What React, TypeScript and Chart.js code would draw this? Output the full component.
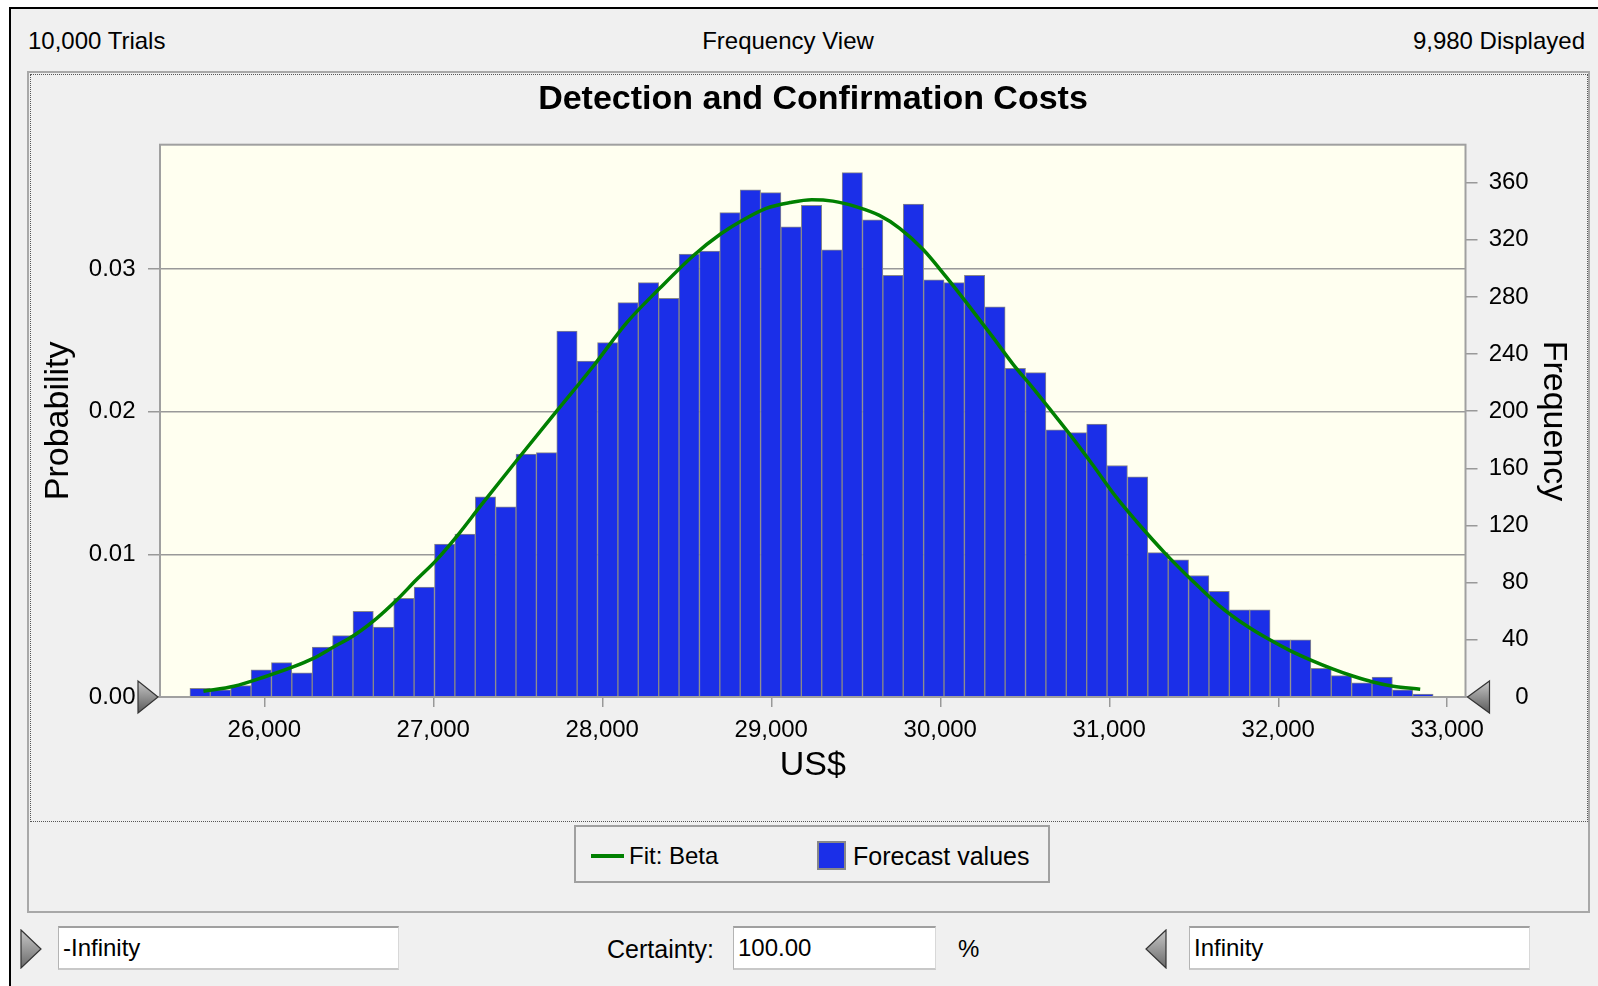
import React, { useEffect, useRef } from "react";
import { Chart, registerables } from "chart.js";

Chart.register(...registerables);

// ---- data ----
const binCenters = [
  25620.3, 25740.9, 25861.5, 25982.1, 26102.7, 26223.3, 26343.9, 26464.5, 26585.1, 26705.7,
  26826.3, 26946.9, 27067.5, 27188.1, 27308.7, 27429.3, 27549.9, 27670.5, 27791.1, 27911.7,
  28032.3, 28152.9, 28273.5, 28394.1, 28514.7, 28635.3, 28755.9, 28876.5, 28997.1, 29117.7,
  29238.3, 29358.9, 29479.5, 29600.1, 29720.7, 29841.3, 29961.9, 30082.5, 30203.1, 30323.7,
  30444.3, 30564.9, 30685.5, 30806.1, 30926.7, 31047.3, 31167.9, 31288.5, 31409.1, 31529.7,
  31650.3, 31770.9, 31891.5, 32012.1, 32132.7, 32253.3, 32373.9, 32494.5, 32615.1, 32735.7,
  32856.3,
];
const frequencies = [
  6, 5, 8, 19, 24, 17, 35, 43, 60, 49,
  69, 77, 107, 114, 140, 133, 170, 171, 256, 235,
  248, 276, 290, 279, 310, 312, 339, 355, 353, 329,
  344, 313, 367, 334, 295, 345, 292, 290, 295, 273,
  230, 227, 187, 185, 191, 162, 154, 101, 96, 85,
  74, 61, 61, 40, 40, 20, 15, 10, 14, 5,
  2,
];
const fitX = [
  25640, 25820, 26000, 26170, 26290, 26410, 26530, 26665, 26785, 26900,
  27020, 27150, 27275, 27490, 27730, 27950, 28145, 28340, 28540, 28700,
  28835, 28970, 29110, 29240, 29365, 29505, 29640, 29760, 29900, 30035,
  30155, 30310, 30430, 30550, 30665, 30785, 30905, 31040, 31160, 31335,
  31495, 31650, 31810, 31950, 32070, 32200, 32325, 32445, 32560, 32680,
  32840,
];
const fitY = [
  4, 7.5, 14, 21, 27, 35, 43, 55, 68, 82,
  96, 114, 133, 165, 200, 232, 262, 286, 309, 324,
  334, 342, 346, 348, 347, 343, 337, 328, 313, 294,
  276, 252, 233, 216, 199, 181, 162, 140, 123, 100,
  81, 64, 50, 40, 32.5, 25.5, 19.5, 14.5, 10.5, 7.5,
  5.5,
];
const xTickValues = [26000, 27000, 28000, 29000, 30000, 31000, 32000, 33000];
const displayedTrials = 9980;
const xMin = 25383;
const xMax = 33108;
const freqMax = 386.5;

const FONT = "'Liberation Sans', Arial, Helvetica, sans-serif";

type TxtProps = { x: number; y: number; align?: "left" | "center" | "right"; size?: number; bold?: boolean; children: React.ReactNode };
function Txt({ x, y, align = "left", size = 24, bold = false, children }: TxtProps) {
  const w = 1000;
  let left = x;
  if (align === "center") left = x - w / 2;
  if (align === "right") left = x - w;
  return (
    <div
      style={{
        position: "absolute",
        left,
        top: y - size,
        width: w,
        height: size * 2,
        lineHeight: `${size * 2}px`,
        fontSize: size,
        fontWeight: bold ? "bold" : "normal",
        textAlign: align,
        color: "#000",
        whiteSpace: "nowrap",
      }}
    >
      {children}
    </div>
  );
}

function Tri({ x, y, w, h, dir }: { x: number; y: number; w: number; h: number; dir: "right" | "left" }) {
  const pts = dir === "right" ? `1,1 ${w - 1},${h / 2} 1,${h - 1}` : `${w - 1},1 1,${h / 2} ${w - 1},${h - 1}`;
  return (
    <svg style={{ position: "absolute", left: x, top: y }} width={w} height={h}>
      <defs>
        <linearGradient id={`g${dir}${x}`} x1="0" y1="0" x2="0" y2="1">
          <stop offset="0" stopColor="#c8c8c8" />
          <stop offset="1" stopColor="#6a6a6a" />
        </linearGradient>
      </defs>
      <polygon points={pts} fill={`url(#g${dir}${x})`} stroke="#333" strokeWidth="1.2" />
    </svg>
  );
}

function Box({ x, y, w, h, text }: { x: number; y: number; w: number; h: number; text: string }) {
  return (
    <div
      style={{
        position: "absolute",
        left: x,
        top: y,
        width: w,
        height: h,
        boxSizing: "border-box",
        background: "#fff",
        borderTop: "2px solid #a0a0a0",
        borderLeft: "1px solid #b4b4b4",
        borderRight: "1px solid #d8d8d8",
        borderBottom: "2px solid #c8c8c8",
        fontSize: 24,
        lineHeight: `${h - 4}px`,
        paddingLeft: 4,
        color: "#000",
        whiteSpace: "nowrap",
      }}
    >
      {text}
    </div>
  );
}

export default function App() {
  const ref = useRef<HTMLCanvasElement>(null);

  useEffect(() => {
    const canvas = ref.current!;
    const plotDecor = {
      id: "plotDecor",
      beforeDraw(chart: any) {
        const { ctx, chartArea: a } = chart;
        ctx.save();
        ctx.fillStyle = "#fffff0";
        ctx.fillRect(a.left, a.top, a.right - a.left, a.bottom - a.top);
        ctx.restore();
      },
      afterDraw(chart: any) {
        const { ctx, chartArea: a } = chart;
        ctx.save();
        ctx.strokeStyle = "#a0a0a0";
        ctx.lineWidth = 2;
        ctx.strokeRect(a.left, a.top, a.right - a.left, a.bottom - a.top);
        const tri = (tipX: number, tipY: number, dx: number) => {
          const g = ctx.createLinearGradient(0, tipY - 16, 0, tipY + 16);
          g.addColorStop(0, "#c8c8c8");
          g.addColorStop(1, "#5a5a5a");
          ctx.beginPath();
          ctx.moveTo(tipX, tipY);
          ctx.lineTo(tipX + dx, tipY - 16);
          ctx.lineTo(tipX + dx, tipY + 16);
          ctx.closePath();
          ctx.fillStyle = g;
          ctx.fill();
          ctx.strokeStyle = "#333";
          ctx.lineWidth = 1.2;
          ctx.stroke();
        };
        tri(a.left - 2, a.bottom, -20);
        tri(a.right + 2, a.bottom, 22);
        ctx.restore();
      },
    };

    const chart = new Chart(canvas, {
      type: "bar",
      data: {
        datasets: [
          {
            type: "line",
            label: "Fit: Beta",
            data: fitX.map((x, i) => ({ x, y: fitY[i] })),
            borderColor: "#008000",
            borderWidth: 3.5,
            pointRadius: 0,
            cubicInterpolationMode: "monotone",
            xAxisID: "x",
            yAxisID: "yR",
            order: 0,
          } as any,
          {
            type: "bar",
            label: "Forecast values",
            data: binCenters.map((x, i) => ({ x, y: frequencies[i] })),
            backgroundColor: "#1b2fe8",
            borderColor: "#888888",
            borderWidth: 1,
            barPercentage: 1,
            categoryPercentage: 1,
            xAxisID: "x",
            yAxisID: "yR",
            order: 1,
          } as any,
        ],
      },
      options: {
        responsive: false,
        animation: false,
        devicePixelRatio: 1,
        layout: { padding: { top: 69.7, right: 58.3, left: 0, bottom: 0 } },
        plugins: { legend: { display: false }, tooltip: { enabled: false }, title: { display: false } },
        scales: {
          x: {
            type: "linear",
            position: "bottom",
            min: xMin,
            max: xMax,
            offset: false,
            grid: { offset: false, drawOnChartArea: false, drawTicks: true, tickLength: 10, color: "#999", lineWidth: 1.5 },
            border: { display: false },
            afterBuildTicks: (s: any) => {
              s.ticks = xTickValues.map((v) => ({ value: v }));
            },
            ticks: {
              autoSkip: false,
              maxRotation: 0,
              padding: 8.6,
              color: "#000",
              font: { family: FONT, size: 24 },
              callback: (v: any) => Number(v).toLocaleString("en-US"),
            },
            title: { display: true, text: "US$", color: "#000", font: { family: FONT, size: 34 }, padding: { top: 0, bottom: 34.6 } },
            afterFit: (s: any) => {
              s.height = 124;
            },
          },
          yL: {
            type: "linear",
            position: "left",
            min: 0,
            max: freqMax / displayedTrials,
            grid: { color: "#999", lineWidth: 1.5, tickLength: 12, drawTicks: true },
            border: { display: false },
            ticks: {
              stepSize: 0.01,
              includeBounds: false,
              padding: 12.5,
              color: "#000",
              font: { family: FONT, size: 24 },
              callback: (v: any) => Number(v).toFixed(2),
            },
            title: { display: true, text: "Probability", color: "#000", font: { family: FONT, size: 34 }, padding: { top: 7.6, bottom: 0 } },
            afterFit: (s: any) => {
              s.width = 129;
            },
          },
          yR: {
            type: "linear",
            position: "right",
            min: 0,
            max: freqMax,
            grid: { drawOnChartArea: false, color: "#999", lineWidth: 1.5, tickLength: 12, drawTicks: true },
            border: { display: false },
            ticks: {
              stepSize: 40,
              includeBounds: false,
              padding: 11.2,
              crossAlign: "far",
              color: "#000",
              font: { family: FONT, size: 24 },
            },
            afterFit: (s: any) => {
              s.width = 63.2;
            },
          },
        },
      } as any,
      plugins: [plotDecor],
    });
    return () => chart.destroy();
  }, []);

  return (
    <div
      style={{
        position: "absolute",
        left: 0,
        top: 0,
        width: 1598,
        height: 986,
        overflow: "hidden",
        background: "#ffffff",
        fontFamily: FONT,
      }}
    >
      {/* window */}
      <div
        style={{
          position: "absolute",
          left: 9,
          top: 7,
          width: 1600,
          height: 990,
          boxSizing: "border-box",
          borderTop: "2px solid #000",
          borderLeft: "2px solid #000",
          background: "#f0f0f0",
        }}
      />
      <Txt x={28} y={41} align="left">10,000 Trials</Txt>
      <Txt x={788} y={41} align="center">Frequency View</Txt>
      <Txt x={1585} y={41} align="right">9,980 Displayed</Txt>

      {/* chart panel */}
      <div
        style={{
          position: "absolute",
          left: 27,
          top: 71,
          width: 1563,
          height: 842,
          boxSizing: "border-box",
          border: "2px solid #a8a8a8",
        }}
      />
      <div
        style={{
          position: "absolute",
          left: 30,
          top: 74,
          width: 1558,
          height: 748,
          boxSizing: "border-box",
          border: "1px dotted #555",
        }}
      />
      <canvas ref={ref} width={1556} height={746} style={{ position: "absolute", left: 31, top: 75, width: 1556, height: 746 }} />
      <Txt x={813} y={97} align="center" size={34} bold>
        Detection and Confirmation Costs
      </Txt>
      <div
        style={{
          position: "absolute",
          left: 1556 - 150,
          top: 421 - 20,
          width: 300,
          height: 40,
          lineHeight: "40px",
          fontSize: 34,
          textAlign: "center",
          color: "#000",
          transform: "rotate(90deg)",
        }}
      >
        Frequency
      </div>

      {/* legend */}
      <div
        style={{
          position: "absolute",
          left: 574,
          top: 825,
          width: 476,
          height: 58,
          boxSizing: "border-box",
          border: "2px solid #a0a0a0",
        }}
      />
      <div style={{ position: "absolute", left: 591, top: 854, width: 33, height: 4, background: "#008000" }} />
      <Txt x={629} y={856} size={24}>Fit: Beta</Txt>
      <div
        style={{
          position: "absolute",
          left: 817,
          top: 841,
          width: 29,
          height: 29,
          boxSizing: "border-box",
          background: "#1b2fe8",
          border: "2px solid #888",
        }}
      />
      <Txt x={853} y={856} size={25}>Forecast values</Txt>

      {/* bottom controls */}
      <Tri x={20} y={929} w={22} h={40} dir="right" />
      <Box x={58} y={926} w={341} h={44} text="-Infinity" />
      <Txt x={714} y={949} align="right" size={25}>Certainty:</Txt>
      <Box x={733} y={926} w={203} h={44} text="100.00" />
      <Txt x={958} y={949} size={24}>%</Txt>
      <Tri x={1145} y={929} w={22} h={40} dir="left" />
      <Box x={1189} y={926} w={341} h={44} text="Infinity" />
    </div>
  );
}
